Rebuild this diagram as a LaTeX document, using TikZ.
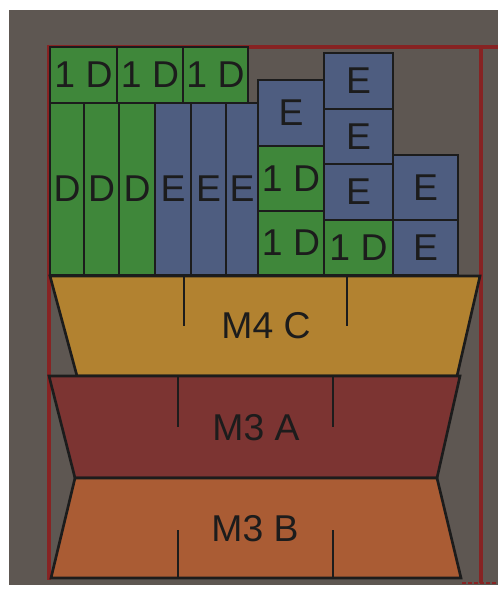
\documentclass[tikz,border=0pt]{standalone}
\usepackage{fontspec}
\setmainfont{Liberation Sans}
\definecolor{bgray}{RGB}{94,87,82}
\definecolor{grn}{RGB}{63,135,58}
\definecolor{blu}{RGB}{78,93,128}
\definecolor{gold}{RGB}{178,130,48}
\definecolor{dred}{RGB}{124,52,50}
\definecolor{orng}{RGB}{170,92,52}
\definecolor{frame}{RGB}{135,35,35}
\definecolor{ink}{RGB}{28,28,28}
\newcommand\cell[7]{\node[cellbox, fill=#6, minimum width={(#4-#2)*0.75pt}, minimum height={(#5-#3)*0.75pt}] (#1) at ({(#2+#4)/2},{(#3+#5)/2}) {#7};}
\begin{document}
\begin{tikzpicture}[x=0.75pt,y=-0.75pt,
  cellbox/.style={draw=ink, line width=2pt, inner sep=0pt, outer sep=0pt, rectangle, text=ink, font=\fontsize{28}{28}\selectfont},
  trap/.style={draw=ink, line width=2pt, line join=miter},
  divider/.style={draw=ink, line width=2pt},
  lbl/.style={text=ink, inner sep=0pt, font=\fontsize{28}{28}\selectfont},
  redline/.style={draw=frame, line width=2.6pt}]
\useasboundingbox (0,0) rectangle (498,589);
% background
\fill[bgray] (9,10) rectangle (498,585);
% red frame
\draw[redline] (498,47) -- (49,47) -- (49,580);
\draw[redline] (481,47) -- (481,583);
\draw[frame, line width=1.2pt, dash pattern=on 3pt off 1.5pt] (462,583) -- (498,583);
% trapezoids
\draw[trap, fill=gold] (50,276) coordinate (c1) -- (480,276) coordinate (c2) -- (457,376) coordinate (c3) -- (77,376) coordinate (c4) -- cycle;
\draw[trap, fill=dred] (49,376) coordinate (a1) -- (460,376) coordinate (a2) -- (437,478) coordinate (a3) -- (75,478) coordinate (a4) -- cycle;
\draw[trap, fill=orng] (75,478) coordinate (b1) -- (437,478) coordinate (b2) -- (461,578) coordinate (b3) -- (51,578) coordinate (b4) -- cycle;
% dividers
\coordinate (cd1t) at (184,276); \coordinate (cd1b) at (184,326);
\coordinate (cd2t) at (347,276); \coordinate (cd2b) at (347,326);
\coordinate (ad1t) at (178,376); \coordinate (ad1b) at (178,427);
\coordinate (ad2t) at (333,376); \coordinate (ad2b) at (333,427);
\coordinate (bd1t) at (178,530); \coordinate (bd1b) at (178,578);
\coordinate (bd2t) at (333,530); \coordinate (bd2b) at (333,578);
\draw[divider] (cd1t) -- (cd1b); \draw[divider] (cd2t) -- (cd2b);
\draw[divider] (ad1t) -- (ad1b); \draw[divider] (ad2t) -- (ad2b);
\draw[divider] (bd1t) -- (bd1b); \draw[divider] (bd2t) -- (bd2b);
\node[lbl] (m4c) at (266,326) {M4 C};
\node[lbl] (m3a) at (256,428) {M3 A};
\node[lbl] (m3b) at (255,529) {M3 B};
% top row
\cell{t1}{50}{47}{117}{103}{grn}{1 D}
\cell{t2}{117}{47}{183}{103}{grn}{1 D}
\cell{t3}{183}{47}{248}{103}{grn}{1 D}
% tall columns
\cell{d1}{50}{103}{84}{275}{grn}{D}
\cell{d2}{84}{103}{119}{275}{grn}{D}
\cell{d3}{119}{103}{155}{275}{grn}{D}
\cell{e1}{155}{103}{191}{275}{blu}{E}
\cell{e2}{191}{103}{226}{275}{blu}{E}
\cell{e3}{226}{103}{258}{275}{blu}{E}
% column 4
\cell{f1}{258}{80}{324}{146}{blu}{E}
\cell{f2}{258}{146}{324}{211}{grn}{1 D}
\cell{f3}{258}{211}{324}{275}{grn}{1 D}
% column 5
\cell{g1}{324}{53}{393}{109}{blu}{E}
\cell{g2}{324}{109}{393}{164}{blu}{E}
\cell{g3}{324}{164}{393}{220}{blu}{E}
\cell{g4}{324}{220}{393}{275}{grn}{1 D}
% column 6
\cell{h1}{393}{155}{458}{220}{blu}{E}
\cell{h2}{393}{220}{458}{275}{blu}{E}
\end{tikzpicture}
\end{document}
